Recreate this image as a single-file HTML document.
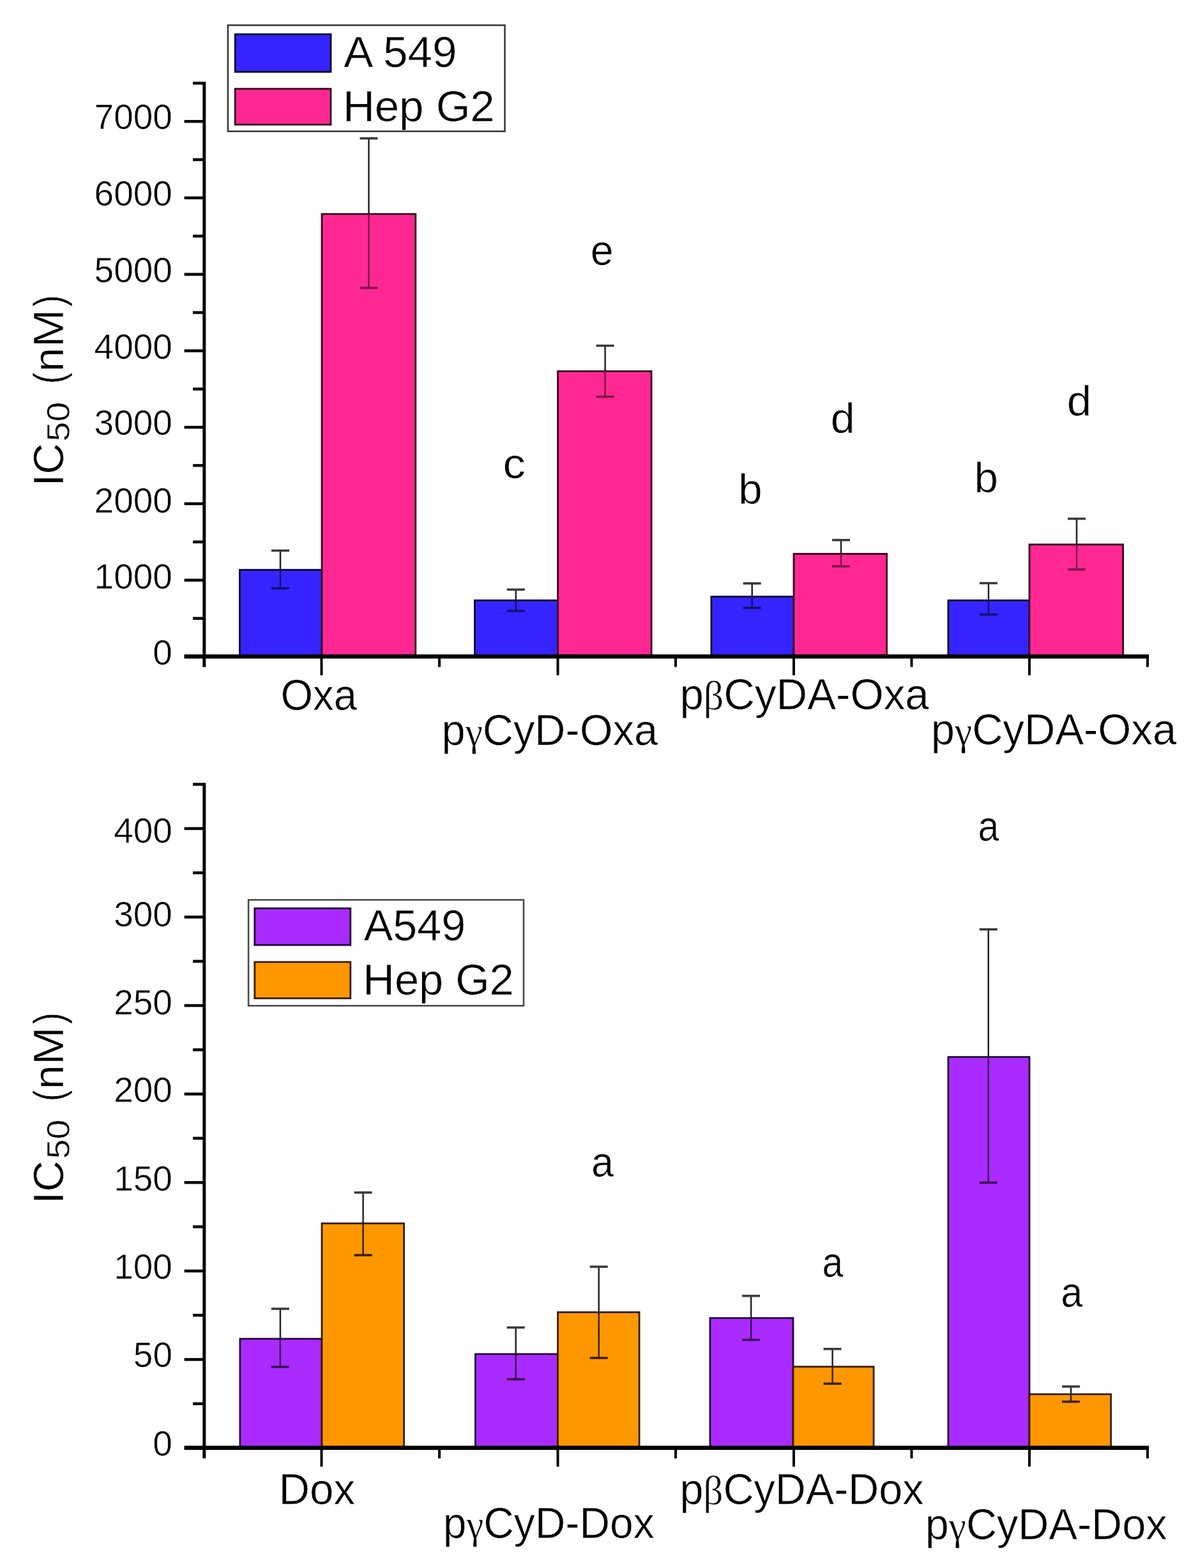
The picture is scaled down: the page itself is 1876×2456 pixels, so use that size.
<!DOCTYPE html>
<html><head><meta charset="utf-8"><title>IC50 chart</title>
<style>html,body{margin:0;padding:0;background:#fff;}svg{display:block;}</style>
</head><body>
<svg width="1876" height="2456" viewBox="0 0 1876 2456">
<rect width="1876" height="2456" fill="#ffffff"/>
<style>text{stroke:#fff;stroke-width:0.6px;}</style>
<g font-family='"Liberation Sans", Arial, sans-serif'>
<rect x="375.40" y="892.60" width="128.60" height="135.60" fill="#3524ff" stroke="#0a0733" stroke-width="2.8" />
<rect x="504.00" y="335.20" width="146.80" height="693.00" fill="#ff2892" stroke="#33081d" stroke-width="2.8" />
<rect x="743.40" y="940.40" width="130.10" height="87.80" fill="#3524ff" stroke="#0a0733" stroke-width="2.8" />
<rect x="873.50" y="581.50" width="146.60" height="446.70" fill="#ff2892" stroke="#33081d" stroke-width="2.8" />
<rect x="1113.90" y="934.50" width="129.10" height="93.70" fill="#3524ff" stroke="#0a0733" stroke-width="2.8" />
<rect x="1243.00" y="867.50" width="145.60" height="160.70" fill="#ff2892" stroke="#33081d" stroke-width="2.8" />
<rect x="1484.90" y="940.40" width="127.10" height="87.80" fill="#3524ff" stroke="#0a0733" stroke-width="2.8" />
<rect x="1612.00" y="852.90" width="146.60" height="175.30" fill="#ff2892" stroke="#33081d" stroke-width="2.8" />
<line x1="439.00" y1="862.40" x2="439.00" y2="892.40" stroke="#222222" stroke-width="2.5" />
<line x1="439.00" y1="892.40" x2="439.00" y2="921.50" stroke="#171072" stroke-width="2.5" />
<line x1="425.00" y1="862.40" x2="453.00" y2="862.40" stroke="#3a3a3a" stroke-width="3.6" />
<line x1="425.00" y1="921.50" x2="453.00" y2="921.50" stroke="#171072" stroke-width="3.6" />
<line x1="577.50" y1="216.70" x2="577.50" y2="335.00" stroke="#222222" stroke-width="2.5" />
<line x1="577.50" y1="335.00" x2="577.50" y2="451.00" stroke="#7f1449" stroke-width="2.5" />
<line x1="563.50" y1="216.70" x2="591.50" y2="216.70" stroke="#3a3a3a" stroke-width="3.6" />
<line x1="563.50" y1="451.00" x2="591.50" y2="451.00" stroke="#7f1449" stroke-width="3.6" />
<line x1="807.80" y1="923.50" x2="807.80" y2="940.20" stroke="#222222" stroke-width="2.5" />
<line x1="807.80" y1="940.20" x2="807.80" y2="957.00" stroke="#171072" stroke-width="2.5" />
<line x1="793.80" y1="923.50" x2="821.80" y2="923.50" stroke="#3a3a3a" stroke-width="3.6" />
<line x1="793.80" y1="957.00" x2="821.80" y2="957.00" stroke="#171072" stroke-width="3.6" />
<line x1="947.60" y1="541.50" x2="947.60" y2="581.30" stroke="#222222" stroke-width="2.5" />
<line x1="947.60" y1="581.30" x2="947.60" y2="621.40" stroke="#7f1449" stroke-width="2.5" />
<line x1="933.60" y1="541.50" x2="961.60" y2="541.50" stroke="#3a3a3a" stroke-width="3.6" />
<line x1="933.60" y1="621.40" x2="961.60" y2="621.40" stroke="#7f1449" stroke-width="3.6" />
<line x1="1177.70" y1="913.80" x2="1177.70" y2="934.30" stroke="#222222" stroke-width="2.5" />
<line x1="1177.70" y1="934.30" x2="1177.70" y2="952.10" stroke="#171072" stroke-width="2.5" />
<line x1="1163.70" y1="913.80" x2="1191.70" y2="913.80" stroke="#3a3a3a" stroke-width="3.6" />
<line x1="1163.70" y1="952.10" x2="1191.70" y2="952.10" stroke="#171072" stroke-width="3.6" />
<line x1="1317.00" y1="845.90" x2="1317.00" y2="867.30" stroke="#222222" stroke-width="2.5" />
<line x1="1317.00" y1="867.30" x2="1317.00" y2="887.00" stroke="#7f1449" stroke-width="2.5" />
<line x1="1303.00" y1="845.90" x2="1331.00" y2="845.90" stroke="#3a3a3a" stroke-width="3.6" />
<line x1="1303.00" y1="887.00" x2="1331.00" y2="887.00" stroke="#7f1449" stroke-width="3.6" />
<line x1="1548.00" y1="913.40" x2="1548.00" y2="940.20" stroke="#222222" stroke-width="2.5" />
<line x1="1548.00" y1="940.20" x2="1548.00" y2="962.50" stroke="#171072" stroke-width="2.5" />
<line x1="1534.00" y1="913.40" x2="1562.00" y2="913.40" stroke="#3a3a3a" stroke-width="3.6" />
<line x1="1534.00" y1="962.50" x2="1562.00" y2="962.50" stroke="#171072" stroke-width="3.6" />
<line x1="1686.00" y1="812.50" x2="1686.00" y2="852.70" stroke="#222222" stroke-width="2.5" />
<line x1="1686.00" y1="852.70" x2="1686.00" y2="892.00" stroke="#7f1449" stroke-width="2.5" />
<line x1="1672.00" y1="812.50" x2="1700.00" y2="812.50" stroke="#3a3a3a" stroke-width="3.6" />
<line x1="1672.00" y1="892.00" x2="1700.00" y2="892.00" stroke="#7f1449" stroke-width="3.6" />
<line x1="319.80" y1="128.10" x2="319.80" y2="1044.70" stroke="#000" stroke-width="5" />
<line x1="288.70" y1="1028.20" x2="1799.20" y2="1028.20" stroke="#000" stroke-width="6.5" />
<line x1="288.60" y1="1028.50" x2="319.80" y2="1028.50" stroke="#000" stroke-width="4.5" />
<line x1="288.60" y1="908.74" x2="319.80" y2="908.74" stroke="#000" stroke-width="4.5" />
<line x1="288.60" y1="788.98" x2="319.80" y2="788.98" stroke="#000" stroke-width="4.5" />
<line x1="288.60" y1="669.22" x2="319.80" y2="669.22" stroke="#000" stroke-width="4.5" />
<line x1="288.60" y1="549.46" x2="319.80" y2="549.46" stroke="#000" stroke-width="4.5" />
<line x1="288.60" y1="429.70" x2="319.80" y2="429.70" stroke="#000" stroke-width="4.5" />
<line x1="288.60" y1="309.94" x2="319.80" y2="309.94" stroke="#000" stroke-width="4.5" />
<line x1="288.60" y1="190.18" x2="319.80" y2="190.18" stroke="#000" stroke-width="4.5" />
<line x1="302.00" y1="968.62" x2="319.80" y2="968.62" stroke="#000" stroke-width="4.5" />
<line x1="302.00" y1="848.86" x2="319.80" y2="848.86" stroke="#000" stroke-width="4.5" />
<line x1="302.00" y1="729.10" x2="319.80" y2="729.10" stroke="#000" stroke-width="4.5" />
<line x1="302.00" y1="609.34" x2="319.80" y2="609.34" stroke="#000" stroke-width="4.5" />
<line x1="302.00" y1="489.58" x2="319.80" y2="489.58" stroke="#000" stroke-width="4.5" />
<line x1="302.00" y1="369.82" x2="319.80" y2="369.82" stroke="#000" stroke-width="4.5" />
<line x1="302.00" y1="250.06" x2="319.80" y2="250.06" stroke="#000" stroke-width="4.5" />
<line x1="302.00" y1="130.30" x2="319.80" y2="130.30" stroke="#000" stroke-width="4.5" />
<line x1="503.50" y1="1028.20" x2="503.50" y2="1057.70" stroke="#000" stroke-width="4" />
<line x1="873.50" y1="1028.20" x2="873.50" y2="1057.70" stroke="#000" stroke-width="4" />
<line x1="1243.00" y1="1028.20" x2="1243.00" y2="1057.70" stroke="#000" stroke-width="4" />
<line x1="1612.00" y1="1028.20" x2="1612.00" y2="1057.70" stroke="#000" stroke-width="4" />
<line x1="688.00" y1="1028.20" x2="688.00" y2="1044.70" stroke="#000" stroke-width="4" />
<line x1="1058.00" y1="1028.20" x2="1058.00" y2="1044.70" stroke="#000" stroke-width="4" />
<line x1="1427.50" y1="1028.20" x2="1427.50" y2="1044.70" stroke="#000" stroke-width="4" />
<line x1="1797.00" y1="1028.20" x2="1797.00" y2="1044.70" stroke="#000" stroke-width="4" />
<text x="239.34" y="1040.85" font-size="55">0</text>
<text x="147.62" y="922.25" font-size="55">1000</text>
<text x="147.62" y="802.95" font-size="55">2000</text>
<text x="147.62" y="680.85" font-size="55">3000</text>
<text x="147.62" y="562.25" font-size="55">4000</text>
<text x="147.62" y="441.55" font-size="55">5000</text>
<text x="147.62" y="321.85" font-size="55">6000</text>
<text x="147.62" y="202.35" font-size="55">7000</text>
<text transform="translate(787.60,749.30) scale(1.0552,1)" font-size="67" fill="#000">c</text>
<text transform="translate(924.75,415.10) scale(0.9654,1)" font-size="67" fill="#000">e</text>
<text transform="translate(1156.32,789.00) scale(1.0050,1)" font-size="67" fill="#000">b</text>
<text transform="translate(1300.70,678.30) scale(1.0182,1)" font-size="67" fill="#000">d</text>
<text transform="translate(1525.41,770.70) scale(1.0083,1)" font-size="67" fill="#000">b</text>
<text transform="translate(1670.65,651.10) scale(1.0348,1)" font-size="67" fill="#000">d</text>
<rect x="356.90" y="39.50" width="433.60" height="166.20" fill="#fff" stroke="#3a3a3a" stroke-width="2.6" />
<rect x="368.20" y="53.70" width="149.80" height="58.80" fill="#3524ff" stroke="#0a0733" stroke-width="2.8" />
<rect x="368.20" y="139.10" width="149.80" height="56.10" fill="#ff2892" stroke="#33081d" stroke-width="2.8" />
<text transform="translate(538.33,105.40) scale(1.0041,1)" font-size="69" fill="#000">A 549</text>
<text transform="translate(536.90,189.80)" font-size="69" fill="#000">Hep G2</text>
<text transform="translate(439.40,1111.50) scale(0.9585,1)" font-size="68" fill="#000">Oxa</text>
<text transform="translate(691.56,1167.20) scale(0.9813,1)" font-size="68" fill="#000">p<tspan font-family="Liberation Serif, serif" font-size="62.6">γ</tspan>CyD-Oxa</text>
<text transform="translate(1064.38,1111.25) scale(0.9896,1)" font-size="68" fill="#000">p<tspan font-family="Liberation Serif, serif" font-size="62.6">β</tspan>CyDA-Oxa</text>
<text transform="translate(1457.65,1166.20) scale(0.9851,1)" font-size="68" fill="#000">p<tspan font-family="Liberation Serif, serif" font-size="62.6">γ</tspan>CyDA-Oxa</text>
<text transform="translate(98.7,761.50) rotate(-90) scale(1.0004,1)" font-size="67">I</text>
<text transform="translate(98.7,742.88) rotate(-90) scale(1.0083,1)" font-size="67">C</text>
<text transform="translate(109.0,691.42) rotate(-90) scale(1.1346,1)" font-size="49">50</text>
<text transform="translate(98.7,601.40) rotate(-90) scale(0.8110,1)" font-size="67">(</text>
<text transform="translate(98.7,582.17) rotate(-90) scale(1.0114,1)" font-size="67">n</text>
<text transform="translate(98.7,544.02) rotate(-90) scale(1.0710,1)" font-size="67">M</text>
<text transform="translate(98.7,480.21) rotate(-90) scale(0.8110,1)" font-size="67">)</text>
<rect x="375.90" y="2097.00" width="128.10" height="170.80" fill="#aa2bff" stroke="#220833" stroke-width="2.8" />
<rect x="504.00" y="1916.20" width="128.60" height="351.60" fill="#ff9700" stroke="#331e00" stroke-width="2.8" />
<rect x="744.40" y="2120.90" width="129.10" height="146.90" fill="#aa2bff" stroke="#220833" stroke-width="2.8" />
<rect x="873.50" y="2055.40" width="127.60" height="212.40" fill="#ff9700" stroke="#331e00" stroke-width="2.8" />
<rect x="1111.90" y="2064.50" width="130.10" height="203.30" fill="#aa2bff" stroke="#220833" stroke-width="2.8" />
<rect x="1242.00" y="2140.70" width="126.10" height="127.10" fill="#ff9700" stroke="#331e00" stroke-width="2.8" />
<rect x="1484.90" y="1655.60" width="127.10" height="612.20" fill="#aa2bff" stroke="#220833" stroke-width="2.8" />
<rect x="1612.00" y="2183.80" width="127.60" height="84.00" fill="#ff9700" stroke="#331e00" stroke-width="2.8" />
<line x1="438.90" y1="2050.00" x2="438.90" y2="2096.80" stroke="#222222" stroke-width="2.5" />
<line x1="438.90" y1="2096.80" x2="438.90" y2="2141.00" stroke="#380e54" stroke-width="2.5" />
<line x1="424.90" y1="2050.00" x2="452.90" y2="2050.00" stroke="#3a3a3a" stroke-width="3.6" />
<line x1="424.90" y1="2141.00" x2="452.90" y2="2141.00" stroke="#380e54" stroke-width="3.6" />
<line x1="568.60" y1="1867.90" x2="568.60" y2="1916.00" stroke="#222222" stroke-width="2.5" />
<line x1="568.60" y1="1916.00" x2="568.60" y2="1966.00" stroke="#382100" stroke-width="2.5" />
<line x1="554.60" y1="1867.90" x2="582.60" y2="1867.90" stroke="#3a3a3a" stroke-width="3.6" />
<line x1="554.60" y1="1966.00" x2="582.60" y2="1966.00" stroke="#382100" stroke-width="3.6" />
<line x1="807.70" y1="2079.30" x2="807.70" y2="2120.70" stroke="#222222" stroke-width="2.5" />
<line x1="807.70" y1="2120.70" x2="807.70" y2="2160.40" stroke="#380e54" stroke-width="2.5" />
<line x1="793.70" y1="2079.30" x2="821.70" y2="2079.30" stroke="#3a3a3a" stroke-width="3.6" />
<line x1="793.70" y1="2160.40" x2="821.70" y2="2160.40" stroke="#380e54" stroke-width="3.6" />
<line x1="937.70" y1="1984.10" x2="937.70" y2="2055.20" stroke="#222222" stroke-width="2.5" />
<line x1="937.70" y1="2055.20" x2="937.70" y2="2127.00" stroke="#382100" stroke-width="2.5" />
<line x1="923.70" y1="1984.10" x2="951.70" y2="1984.10" stroke="#3a3a3a" stroke-width="3.6" />
<line x1="923.70" y1="2127.00" x2="951.70" y2="2127.00" stroke="#382100" stroke-width="3.6" />
<line x1="1176.10" y1="2029.80" x2="1176.10" y2="2064.30" stroke="#222222" stroke-width="2.5" />
<line x1="1176.10" y1="2064.30" x2="1176.10" y2="2098.60" stroke="#380e54" stroke-width="2.5" />
<line x1="1162.10" y1="2029.80" x2="1190.10" y2="2029.80" stroke="#3a3a3a" stroke-width="3.6" />
<line x1="1162.10" y1="2098.60" x2="1190.10" y2="2098.60" stroke="#380e54" stroke-width="3.6" />
<line x1="1303.60" y1="2112.90" x2="1303.60" y2="2140.50" stroke="#222222" stroke-width="2.5" />
<line x1="1303.60" y1="2140.50" x2="1303.60" y2="2167.30" stroke="#382100" stroke-width="2.5" />
<line x1="1289.60" y1="2112.90" x2="1317.60" y2="2112.90" stroke="#3a3a3a" stroke-width="3.6" />
<line x1="1289.60" y1="2167.30" x2="1317.60" y2="2167.30" stroke="#382100" stroke-width="3.6" />
<line x1="1547.80" y1="1455.70" x2="1547.80" y2="1655.40" stroke="#222222" stroke-width="2.5" />
<line x1="1547.80" y1="1655.40" x2="1547.80" y2="1852.30" stroke="#380e54" stroke-width="2.5" />
<line x1="1533.80" y1="1455.70" x2="1561.80" y2="1455.70" stroke="#3a3a3a" stroke-width="3.6" />
<line x1="1533.80" y1="1852.30" x2="1561.80" y2="1852.30" stroke="#380e54" stroke-width="3.6" />
<line x1="1677.00" y1="2171.80" x2="1677.00" y2="2183.60" stroke="#222222" stroke-width="2.5" />
<line x1="1677.00" y1="2183.60" x2="1677.00" y2="2195.50" stroke="#382100" stroke-width="2.5" />
<line x1="1663.00" y1="2171.80" x2="1691.00" y2="2171.80" stroke="#3a3a3a" stroke-width="3.6" />
<line x1="1663.00" y1="2195.50" x2="1691.00" y2="2195.50" stroke="#382100" stroke-width="3.6" />
<line x1="319.80" y1="1226.30" x2="319.80" y2="2284.30" stroke="#000" stroke-width="5" />
<line x1="288.70" y1="2267.80" x2="1799.20" y2="2267.80" stroke="#000" stroke-width="6.5" />
<line x1="288.60" y1="2268.00" x2="319.80" y2="2268.00" stroke="#000" stroke-width="4.5" />
<line x1="288.60" y1="2129.40" x2="319.80" y2="2129.40" stroke="#000" stroke-width="4.5" />
<line x1="288.60" y1="1990.80" x2="319.80" y2="1990.80" stroke="#000" stroke-width="4.5" />
<line x1="288.60" y1="1852.20" x2="319.80" y2="1852.20" stroke="#000" stroke-width="4.5" />
<line x1="288.60" y1="1713.60" x2="319.80" y2="1713.60" stroke="#000" stroke-width="4.5" />
<line x1="288.60" y1="1575.00" x2="319.80" y2="1575.00" stroke="#000" stroke-width="4.5" />
<line x1="288.60" y1="1436.40" x2="319.80" y2="1436.40" stroke="#000" stroke-width="4.5" />
<line x1="288.60" y1="1297.80" x2="319.80" y2="1297.80" stroke="#000" stroke-width="4.5" />
<line x1="302.00" y1="2198.70" x2="319.80" y2="2198.70" stroke="#000" stroke-width="4.5" />
<line x1="302.00" y1="2060.10" x2="319.80" y2="2060.10" stroke="#000" stroke-width="4.5" />
<line x1="302.00" y1="1921.50" x2="319.80" y2="1921.50" stroke="#000" stroke-width="4.5" />
<line x1="302.00" y1="1782.90" x2="319.80" y2="1782.90" stroke="#000" stroke-width="4.5" />
<line x1="302.00" y1="1644.30" x2="319.80" y2="1644.30" stroke="#000" stroke-width="4.5" />
<line x1="302.00" y1="1505.70" x2="319.80" y2="1505.70" stroke="#000" stroke-width="4.5" />
<line x1="302.00" y1="1367.10" x2="319.80" y2="1367.10" stroke="#000" stroke-width="4.5" />
<line x1="302.00" y1="1228.50" x2="319.80" y2="1228.50" stroke="#000" stroke-width="4.5" />
<line x1="503.50" y1="2267.80" x2="503.50" y2="2297.30" stroke="#000" stroke-width="4" />
<line x1="873.50" y1="2267.80" x2="873.50" y2="2297.30" stroke="#000" stroke-width="4" />
<line x1="1243.00" y1="2267.80" x2="1243.00" y2="2297.30" stroke="#000" stroke-width="4" />
<line x1="1612.00" y1="2267.80" x2="1612.00" y2="2297.30" stroke="#000" stroke-width="4" />
<line x1="688.00" y1="2267.80" x2="688.00" y2="2284.30" stroke="#000" stroke-width="4" />
<line x1="1058.00" y1="2267.80" x2="1058.00" y2="2284.30" stroke="#000" stroke-width="4" />
<line x1="1427.50" y1="2267.80" x2="1427.50" y2="2284.30" stroke="#000" stroke-width="4" />
<line x1="1797.00" y1="2267.80" x2="1797.00" y2="2284.30" stroke="#000" stroke-width="4" />
<text x="239.34" y="2280.05" font-size="55">0</text>
<text x="208.81" y="2140.85" font-size="55">50</text>
<text x="178.15" y="2003.25" font-size="55">100</text>
<text x="178.15" y="1864.65" font-size="55">150</text>
<text x="178.15" y="1726.35" font-size="55">200</text>
<text x="178.15" y="1588.95" font-size="55">250</text>
<text x="178.15" y="1450.85" font-size="55">300</text>
<text x="178.15" y="1319.95" font-size="55">400</text>
<text transform="translate(925.93,1842.80) scale(0.9390,1)" font-size="67" fill="#000">a</text>
<text transform="translate(1287.49,1999.70) scale(0.8810,1)" font-size="67" fill="#000">a</text>
<text transform="translate(1531.48,1316.60) scale(0.8839,1)" font-size="67" fill="#000">a</text>
<text transform="translate(1661.19,2047.20) scale(0.9158,1)" font-size="67" fill="#000">a</text>
<rect x="389.10" y="1409.50" width="430.90" height="165.80" fill="#fff" stroke="#4a4a4a" stroke-width="2.6" />
<rect x="398.80" y="1422.80" width="150.00" height="57.40" fill="#aa2bff" stroke="#220833" stroke-width="2.8" />
<rect x="398.80" y="1506.80" width="150.00" height="56.90" fill="#ff9700" stroke="#331e00" stroke-width="2.8" />
<text transform="translate(569.73,1473.40) scale(0.9890,1)" font-size="69" fill="#000">A549</text>
<text transform="translate(568.34,1558.30) scale(0.9945,1)" font-size="69" fill="#000">Hep G2</text>
<text transform="translate(436.45,2355.50) scale(0.9894,1)" font-size="68" fill="#000">Dox</text>
<text transform="translate(693.71,2408.90) scale(0.9699,1)" font-size="68" fill="#000">p<tspan font-family="Liberation Serif, serif" font-size="62.6">γ</tspan>CyD-Dox</text>
<text transform="translate(1064.38,2356.40) scale(0.9781,1)" font-size="68" fill="#000">p<tspan font-family="Liberation Serif, serif" font-size="62.6">β</tspan>CyDA-Dox</text>
<text transform="translate(1448.77,2410.50) scale(0.9800,1)" font-size="68" fill="#000">p<tspan font-family="Liberation Serif, serif" font-size="62.6">γ</tspan>CyDA-Dox</text>
<text transform="translate(98.7,1885.40) rotate(-90) scale(1.0004,1)" font-size="67">I</text>
<text transform="translate(98.7,1866.78) rotate(-90) scale(1.0083,1)" font-size="67">C</text>
<text transform="translate(109.0,1815.32) rotate(-90) scale(1.1346,1)" font-size="49">50</text>
<text transform="translate(98.7,1725.30) rotate(-90) scale(0.8110,1)" font-size="67">(</text>
<text transform="translate(98.7,1706.07) rotate(-90) scale(1.0114,1)" font-size="67">n</text>
<text transform="translate(98.7,1667.92) rotate(-90) scale(1.0710,1)" font-size="67">M</text>
<text transform="translate(98.7,1604.11) rotate(-90) scale(0.8110,1)" font-size="67">)</text>
</g></svg>
</body></html>
